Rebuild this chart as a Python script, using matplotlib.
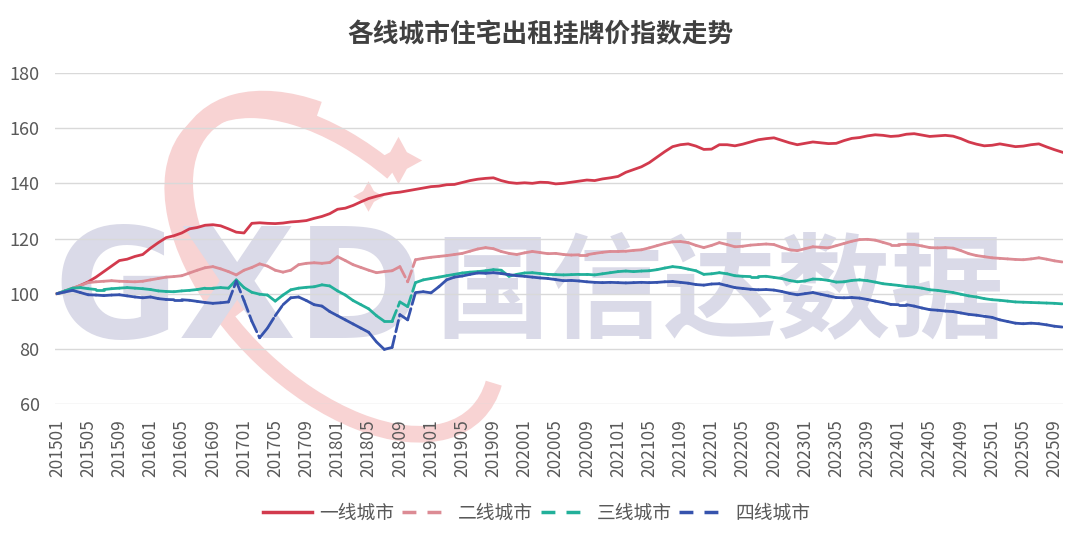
import numpy as np
import matplotlib
matplotlib.use('Agg')
import matplotlib.pyplot as plt
from matplotlib.collections import LineCollection
from matplotlib.lines import Line2D
from matplotlib.patches import Arc

plt.rcParams['font.family'] = ['Noto Sans CJK SC', 'DejaVu Sans']

# monthly index, 201501 .. 202510
months = [f'{y}{m:02d}' for y in range(2015, 2026) for m in range(1, 13)][:130]

tier1 = [
    100, 100.8, 101.8, 103, 104.3, 106, 108, 110, 112, 112.5, 113.5, 114.2,
    116.5, 118.5, 120.3, 121, 122, 123.5, 124, 124.8, 125, 124.6, 123.5, 122.3,
    122, 125.5, 125.7, 125.5, 125.4, 125.6, 126, 126.2, 126.5, 127.3, 128, 129,
    130.6, 131, 132, 133.3, 134.5, 135.3, 136, 136.5, 136.8, 137.3, 137.8, 138.3,
    138.8, 139, 139.5, 139.6, 140.3, 141, 141.5, 141.8, 142, 141, 140.3, 140,
    140.2, 140, 140.4, 140.3, 139.8, 140, 140.4, 140.8, 141.2, 141, 141.6, 142,
    142.5, 144, 145, 146, 147.5, 149.5, 151.5, 153.3, 154, 154.3, 153.5, 152.3,
    152.4, 154, 154, 153.6, 154.2, 155, 155.8, 156.2, 156.5, 155.6, 154.7, 154,
    154.5, 155, 154.7, 154.4, 154.5, 155.5, 156.3, 156.6, 157.2, 157.6, 157.4, 157,
    157.2, 157.8, 158, 157.5, 157, 157.2, 157.4, 157.1, 156.2, 155, 154.2, 153.6,
    153.8, 154.3, 153.8, 153.3, 153.5, 154, 154.3, 153.2, 152.2, 151.3,
]

tier2 = [
    100, 101, 102, 103, 104, 104.3, 104.5, 104.7, 104.5, 104.4, 104.3, 104.5,
    105, 105.5, 106, 106.2, 106.5, 107.5, 108.5, 109.4, 109.8, 109, 108, 106.8,
    108.5, 109.5, 110.8, 110, 108.5, 107.8, 108.5, 110.5, 111, 111.2, 111, 111.3,
    113.4, 112, 110.5, 109.5, 108.5, 107.6, 108, 108.3, 109.8, 104.3, 112.3, 112.8,
    113.2, 113.5, 113.8, 114.2, 114.6, 115.4, 116.2, 116.7, 116.3, 115.3, 114.6, 114.2,
    114.8, 115.3, 114.9, 114.5, 114.6, 114.2, 114, 114.1, 114.1, 114.6, 115, 115.3,
    115.3, 115.4, 115.7, 115.9, 116.6, 117.4, 118.2, 118.8, 118.9, 118.5, 117.5, 116.7,
    117.5, 118.5, 117.8, 117, 117.2, 117.6, 117.8, 118, 117.8, 116.8, 115.9, 115.6,
    116.3, 117, 116.8, 116.6, 117.4, 118.2, 119, 119.6, 119.7, 119.4, 118.6, 117.8,
    117.8, 117.9, 117.8, 117.3, 116.7, 116.6, 116.7, 116.5, 115.6, 114.5, 113.8, 113.4,
    113, 112.8, 112.6, 112.4, 112.3, 112.6, 113, 112.5, 111.9, 111.5,
]

tier3 = [
    100, 101, 102, 102.2, 101.8, 101.5, 101.5, 101.8, 102, 102.2, 102, 101.8,
    101.5, 101, 100.8, 100.7, 101, 101.2, 101.5, 102, 102, 102.2, 102, 105,
    102.2, 100.5, 99.8, 99.5, 97.3, 99.5, 101.4, 102, 102.3, 102.5, 103.2, 102.8,
    101, 99.5, 97.5, 96, 94.5, 92, 90, 90, 97, 95.3, 104, 105,
    105.5, 106, 106.5, 107, 107.5, 107.8, 108, 108.3, 108.7, 108.5, 106.3, 107,
    107.5, 107.6, 107.3, 107, 106.9, 106.8, 106.9, 107, 107, 106.8, 107.2, 107.6,
    108, 108.2, 108, 108.2, 108.3, 108.7, 109.3, 109.8, 109.5, 108.9, 108.3, 107,
    107.2, 107.6, 107.2, 106.5, 106.3, 106.2, 106.2, 106.3, 105.9, 105.5, 104.8, 104.3,
    104.6, 105.3, 105.2, 104.8, 104.2, 104.3, 104.8, 105, 104.7, 104.2, 103.6, 103.3,
    103, 102.6, 102.4, 102, 101.4, 101.2, 100.8, 100.4, 99.8, 99.2, 98.8, 98.2,
    97.8, 97.6, 97.3, 97, 96.9, 96.8, 96.7, 96.6, 96.5, 96.3,
]

tier4 = [
    100, 100.6, 101.2, 100.4, 99.6, 99.5, 99.3, 99.5, 99.6, 99.2, 98.8, 98.5,
    98.8, 98.2, 97.9, 97.8, 97.8, 97.6, 97.2, 96.8, 96.5, 96.7, 97, 104.5,
    97.5, 90, 84, 87.5, 92, 96, 98.5, 98.8, 97.5, 96, 95.5, 93.5,
    92, 90.5, 89, 87.5, 86, 82.5, 79.8, 80.5, 92.4, 90.5, 100.4, 100.7,
    100.3, 102.5, 105, 106, 106.4, 107, 107.5, 107.4, 107.6, 107.3, 106.9, 106.5,
    106.3, 106, 105.7, 105.5, 105.1, 104.7, 104.8, 104.6, 104.3, 104.1, 104, 104.1,
    104, 103.9, 104, 104.1, 104, 104.1, 104.3, 104.4, 104.1, 103.8, 103.3, 103.1,
    103.5, 103.6, 102.9, 102.2, 101.9, 101.6, 101.4, 101.5, 101.3, 100.8, 100.1, 99.6,
    100, 100.4, 99.8, 99.2, 98.6, 98.5, 98.6, 98.4, 97.9, 97.3, 96.8, 96.1,
    96, 96, 95.5, 94.8, 94.2, 94, 93.7, 93.5, 93, 92.5, 92.2, 91.8,
    91.4, 90.5, 89.9, 89.3, 89.1, 89.3, 89.1, 88.7, 88.2, 87.9,
]

names = ['一线城市', '二线城市', '三线城市', '四线城市']
colors = ['#d23a4d', '#dc8b94', '#22b09a', '#3653ad']

fig = plt.figure(figsize=(10.8, 5.5), dpi=100)

# watermark layer in pixel coordinates
bg = fig.add_axes([0, 0, 1, 1], zorder=0)
bg.set_xlim(0, 1080)
bg.set_ylim(550, 0)
bg.axis('off')
pink = '#f8d3d3'
bg.add_patch(Arc((335, 272), 400, 225, angle=45, theta1=-10, theta2=255,
                 lw=12, color=pink))
bg.add_patch(Arc((345, 265), 400, 230, angle=45, theta1=110, theta2=215,
                 lw=16, color=pink))
bg.plot([398], [160], marker=(4, 1, 0), ms=34, color=pink, mec='none')
bg.plot([368], [196], marker=(4, 1, 0), ms=22, color=pink, mec='none')
bg.text(238, 295, 'GXD', fontsize=110, fontweight='bold', color='#dadae8',
        ha='center', va='center', family='DejaVu Sans')
bg.text(720, 295, '国信达数据', fontsize=82, fontweight='bold', color='#dadae8',
        ha='center', va='center')

ax = fig.add_axes([55 / 1080, 1 - 404 / 550, 1008 / 1080, 331 / 550], zorder=1)
ax.patch.set_alpha(0)

x = np.arange(len(months))
ax.plot(x, tier1, color=colors[0], lw=2.0, solid_joinstyle='round')

# dashed series: Excel-style, the dash pattern restarts on every segment
for vals, c in zip([tier2, tier3, tier4], colors[1:]):
    pts = np.column_stack([x, vals])
    segs = np.stack([pts[:-1], pts[1:]], axis=1)
    lc = LineCollection(segs, colors=c, linewidths=2.0,
                        linestyles=[(0, (4.2, 1.6))], capstyle='round')
    ax.add_collection(lc)

ax.set_xlim(-0.26, 129.1)
ax.set_ylim(60, 180)
ax.set_yticks(range(60, 181, 20))
ax.set_xticks(x[::4])
ax.set_xticklabels(months[::4], rotation=90)
ax.grid(axis='y', color='#d9d9d9', lw=1)
ax.set_axisbelow(True)
for s in ax.spines.values():
    s.set_visible(False)
ax.tick_params(axis='y', length=0, pad=11, labelsize=13, labelcolor='#595959')
ax.tick_params(axis='x', length=0, pad=11, labelsize=12.5, labelcolor='#595959')

fig.text(0.5, 0.936, '各线城市住宅出租挂牌价指数走势', ha='center', va='center',
         fontsize=18.5, fontweight='bold', color='#404040')

handles = [Line2D([], [], color=colors[0], lw=2.5)]
for c in colors[1:]:
    handles.append(Line2D([], [], color=c, lw=2.5, dashes=(4, 3.2)))
fig.legend(handles, names, loc='center', bbox_to_anchor=(0.497, 0.067), ncol=4,
           frameon=False, fontsize=13.5, handlelength=2.6, handletextpad=0.4,
           columnspacing=0.4, labelcolor='#595959')

fig.savefig('out.png', dpi=100)
